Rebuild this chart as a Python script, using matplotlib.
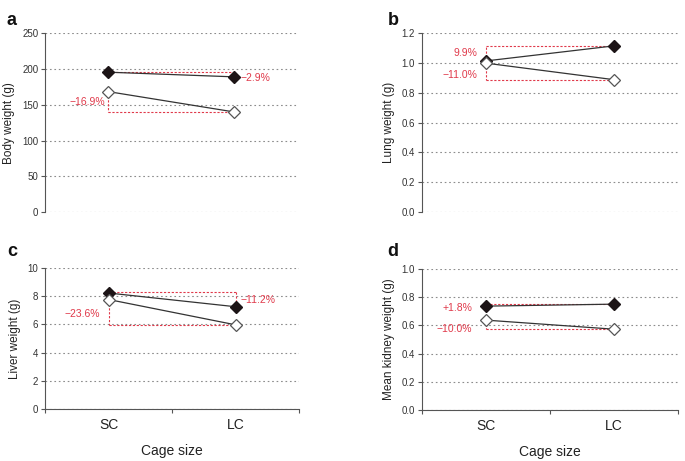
import matplotlib
matplotlib.use("Agg")
import matplotlib.pyplot as plt

plt.rcParams["font.family"] = ["Liberation Sans", "DejaVu Sans"]

categories = ["SC", "LC"]
xlabel = "Cage size"

body_filled = [195.5, 189.0]
body_open = [168.4, 140.0]
lung_filled = [1.014, 1.115]
lung_open = [0.999, 0.888]
liver_filled = [8.22, 7.25]
liver_open = [7.76, 5.97]
kidney_filled = [0.736, 0.750]
kidney_open = [0.637, 0.573]

panels = [
    dict(letter="a", ylabel="Body weight (g)", filled=body_filled, opn=body_open,
         ylim=(0, 250), yticks=[0, 50, 100, 150, 200, 250], fmt="{:.0f}",
         f_label="\u22122.9%", o_label="\u221216.9%"),
    dict(letter="b", ylabel="Lung weight (g)", filled=lung_filled, opn=lung_open,
         ylim=(0, 1.2), yticks=[0, 0.2, 0.4, 0.6, 0.8, 1.0, 1.2], fmt="{:.1f}",
         f_label="9.9%", o_label="\u221211.0%"),
    dict(letter="c", ylabel="Liver weight (g)", filled=liver_filled, opn=liver_open,
         ylim=(0, 10), yticks=[0, 2, 4, 6, 8, 10], fmt="{:.0f}",
         f_label="\u221211.2%", o_label="\u221223.6%"),
    dict(letter="d", ylabel="Mean kidney weight (g)", filled=kidney_filled, opn=kidney_open,
         ylim=(0, 1.0), yticks=[0, 0.2, 0.4, 0.6, 0.8, 1.0], fmt="{:.1f}",
         f_label="+1.8%", o_label="\u221210.0%"),
]

RED = "#e0394a"
GRID = "#8c8c8c"
AX = "#555555"
TXT = "#333333"

fig = plt.figure(figsize=(6.85, 4.61), dpi=100)
rects = {
    "a": [0.066, 0.540, 0.367, 0.388],
    "b": [0.616, 0.540, 0.374, 0.388],
    "c": [0.066, 0.112, 0.371, 0.307],
    "d": [0.616, 0.110, 0.374, 0.307],
}

xpos = [0.5, 1.5]
LBL = 7.5

for p in panels:
    ax = fig.add_axes(rects[p["letter"]])
    bottom = p["letter"] in ("c", "d")
    ax.set_xlim(0, 2)
    ax.set_ylim(*p["ylim"])
    ax.set_yticks(p["yticks"])
    ax.set_yticklabels([p["fmt"].format(v) for v in p["yticks"]], fontsize=7, color=TXT)
    for yv in p["yticks"]:
        ax.axhline(yv, color=GRID, lw=0.8, ls=(0, (1.5, 2.5)), zorder=0)
    for s in ("top", "right"):
        ax.spines[s].set_visible(False)
    ax.spines["left"].set_color(AX)
    ax.tick_params(axis="y", length=3, color=AX, pad=2)
    if bottom:
        ax.spines["bottom"].set_color(AX)
        ax.set_xticks([0, 1, 2])
        ax.set_xticklabels([])
        ax.set_xticks(xpos, minor=True)
        ax.set_xticklabels(categories, minor=True, fontsize=10, color="#222222")
        ax.tick_params(axis="x", which="major", length=3, color=AX)
        ax.tick_params(axis="x", which="minor", length=0, color=AX, pad=6)
        ax.set_xlabel(xlabel, fontsize=10, color="#222222", labelpad=9)
    else:
        ax.spines["bottom"].set_visible(False)
        ax.set_xticks([])
    ax.set_ylabel(p["ylabel"], fontsize=8.5, color="#222222", labelpad=5)

    f, o = p["filled"], p["opn"]
    lt = p["letter"]
    dash = dict(color=RED, lw=0.8, ls=(0, (2, 1.5)), zorder=1)
    if lt == "a":
        ax.plot([xpos[0], xpos[1]], [f[0], f[0]], **dash)
        ax.plot([xpos[1], xpos[1]], [f[0], f[1]], **dash)
        ax.plot([xpos[0], xpos[0]], [o[0], o[1]], **dash)
        ax.plot([xpos[0], xpos[1]], [o[1], o[1]], **dash)
        ax.text(xpos[1] + 0.05, f[1] - 1, p["f_label"], color=RED, fontsize=LBL, va="center", ha="left")
        ax.text(xpos[0] - 0.02, 154, p["o_label"], color=RED, fontsize=LBL, va="center", ha="right")
    elif lt == "b":
        ax.plot([xpos[0], xpos[1]], [f[1], f[1]], **dash)
        ax.plot([xpos[0], xpos[0]], [f[0], f[1]], **dash)
        ax.plot([xpos[0], xpos[0]], [o[0], o[1]], **dash)
        ax.plot([xpos[0], xpos[1]], [o[1], o[1]], **dash)
        ax.text(xpos[0] - 0.07, 1.067, p["f_label"], color=RED, fontsize=LBL, va="center", ha="right")
        ax.text(xpos[0] - 0.07, 0.92, p["o_label"], color=RED, fontsize=LBL, va="center", ha="right")
    elif lt == "c":
        top = 8.28
        ax.plot([xpos[0], xpos[1]], [top, top], **dash)
        ax.plot([xpos[1], xpos[1]], [top, f[1]], **dash)
        ax.plot([xpos[0], xpos[0]], [o[0], o[1]], **dash)
        ax.plot([xpos[0], xpos[1]], [o[1], o[1]], **dash)
        ax.text(xpos[1] + 0.04, 7.72, p["f_label"], color=RED, fontsize=LBL, va="center", ha="left")
        ax.text(xpos[0] - 0.07, 6.73, p["o_label"], color=RED, fontsize=LBL, va="center", ha="right")
    else:
        ax.plot([xpos[0], xpos[1]], [f[1], f[1]], **dash)
        ax.plot([xpos[0], xpos[0]], [f[0], f[1]], **dash)
        ax.plot([xpos[0], xpos[0]], [o[0], o[1]], **dash)
        ax.plot([xpos[0], xpos[1]], [o[1], o[1]], **dash)
        ax.text(xpos[0] - 0.11, 0.724, p["f_label"], color=RED, fontsize=LBL, va="center", ha="right")
        ax.text(xpos[0] - 0.11, 0.575, p["o_label"], color=RED, fontsize=LBL, va="center", ha="right")

    ax.plot(xpos, f, color="#333333", lw=0.9, marker="D", ms=5.8,
            mfc="#1c1416", mec="#1c1416", zorder=3, clip_on=False)
    ax.plot(xpos, o, color="#333333", lw=0.9, marker="D", ms=5.8,
            mfc="white", mec="#555555", mew=0.9, zorder=3, clip_on=False)

    ax.set_facecolor("none")

# panel letters
for letter, x, y in [("a", 0.010, 0.975), ("b", 0.566, 0.975), ("c", 0.010, 0.473), ("d", 0.566, 0.473)]:
    fig.text(x, y, letter, fontsize=13, fontweight="bold", va="top", ha="left", color="#111111")

fig.savefig("out.png", dpi=100)
